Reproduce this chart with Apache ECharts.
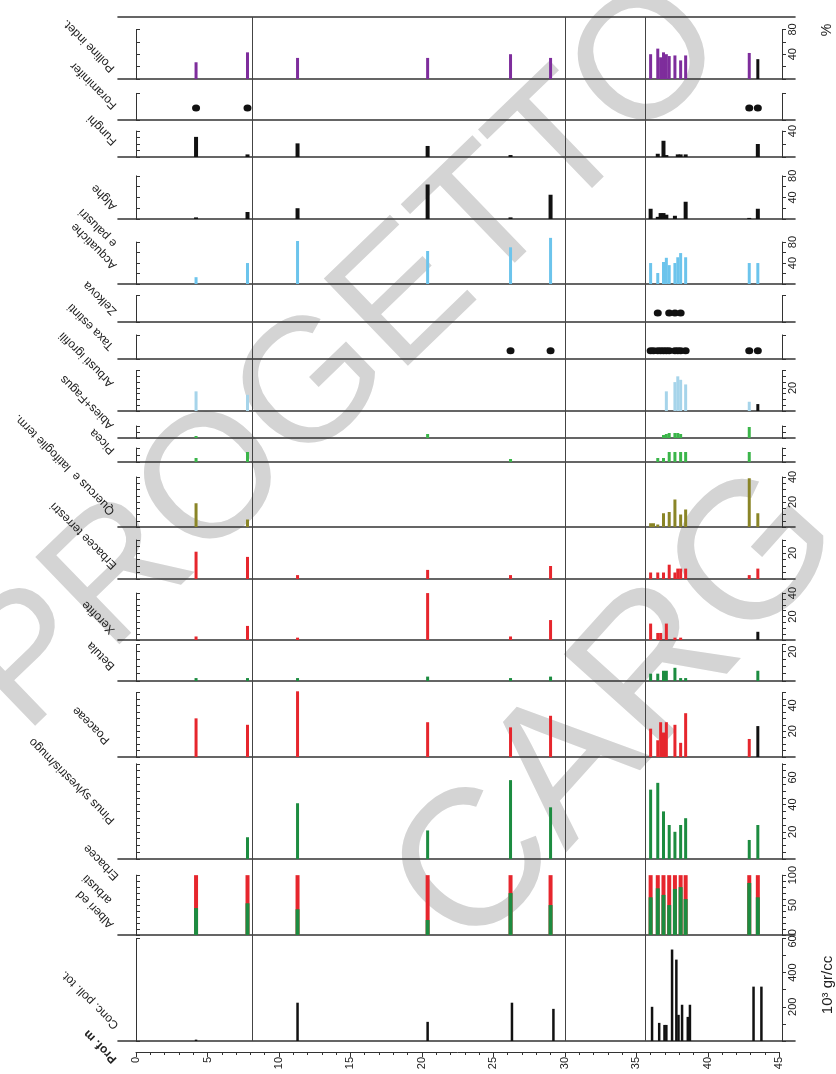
<!DOCTYPE html>
<html><head><meta charset="utf-8">
<script src="https://cdn.jsdelivr.net/npm/echarts@6/dist/echarts.min.js"></script>
<style>html,body{margin:0;padding:0;background:#fff}#c{width:836px;height:1074px}</style>
</head><body><div id="c"></div>
<script>
// ---------------- DATA ----------------
// sample depths (m)
const depths = [4.2, 7.8, 11.3, 20.4, 26.2, 29.0, 36.0, 36.2, 36.5, 36.7, 36.9, 37.1, 37.3, 37.7, 37.9, 38.1, 38.45, 42.9, 43.5];
// percentages per taxon (0 = absent)
const pollineIndet     = [27,43,34,34,40,34, 40,0,49,35,43,40,37,38,0,30,38, 42,32];
const foraminifer      = [1,1,0,0,0,0, 0,0,0,0,0,0,0,0,0,0,0, 1,1];
const funghi           = [31,4,21,17,3,0, 0,0,5,0,25,3,0,0,4,4,4, 0,20];
const alghe            = [3,13,20,64,3,45, 19,0,4,11,11,8,0,6,0,0,32, 2,19];
const acquatiche       = [13,40,82,63,70,88, 40,0,21,0,42,50,36,40,51,59,51, 40,40];
const zelkova          = [0,0,0,0,0,0, 0,0,1,0,0,0,1,1,0,1,0, 0,0];
const taxaEstinti      = [0,0,0,0,1,1, 1,1,1,1,1,1,1,1,1,1,1, 1,1];
const arbustiIgrofili  = [17,14,0,0,0,0, 0,0,0,0,0,17,0,25,30,27,23, 8,6];
const abiesFagus       = [2,0,0,4,0,0, 0,0,0,0,3,4,5,5,5,4,0, 11,0];
const picea            = [4,10,0,0,3,0, 0,0,4,0,4,0,10,10,0,10,10, 10,0];
const quercus          = [19,6,0,0,0,0, 3,3,2,0,11,0,12,22,0,10,14, 39,11];
const erbaceeTerrestri = [21,17,3,7,3,10, 5,0,5,0,5,0,11,5,8,8,8, 3,8];
const xerofite         = [3,12,2,40,3,17, 14,0,6,6,0,14,0,2,0,2,0, 0,7];
const betula           = [2,2,2,3,2,3, 5,0,5,0,7,7,0,9,0,2,2, 0,7];
const poaceae          = [30,25,51,27,23,32, 22,0,13,27,19,27,0,25,0,11,34, 14,24];
const pinus            = [0,16,41,21,58,38, 51,0,56,0,35,0,25,20,0,25,30, 14,25];
const alberiArbusti    = [45,53,43,25,70,50, 63,null,78,null,67,null,50,77,null,80,60, 87,63];
const erbaceeTot       = [55,47,57,75,30,50, 37,null,22,null,33,null,50,23,null,20,40, 13,37];
// total pollen concentration (10^3 gr/cc)
const concDepths = [4.2, 11.3, 20.4, 26.3, 29.2, 36.1, 36.6, 36.97, 37.1, 37.5, 37.8, 37.95, 38.2, 38.6, 38.75, 43.2, 43.75];
const concPoll   = [8, 224, 112, 224, 188, 200, 106, 94, 94, 535, 476, 153, 212, 141, 212, 318, 318];
// zone boundaries (m)
const zoneLines = [8.1, 30.0, 35.6];
// depth axis ticks
const depthTicks = [0, 45, 5];

// ---------------- STYLE / LAYOUT ----------------
const C = {purple:'#7e2d9c', black:'#111111', blue:'#6cc4ec', lightblue:'#a6d4ea', bgreen:'#3bb54a',
           green:'#1c8c40', olive:'#8a8527', red:'#e6262d', axis:'#333'};
const PL = 118, PW = 677, XMIN = -1.26, XMAX = 46.1;
const rng = (a, b, s) => { const r = []; for (let v = a; v <= b + 1e-9; v += s) r.push(v); return r; };

// top/base: pixel rows of panel; max: value at panel top; tt: top of the axis bracket
const panels = [
 {top:17,  base:79,   max:100, tt:80,  rt:20,  rl:[40,80],  lt:20,  type:'bar', vals:pollineIndet, color:C.purple, black:[18]},
 {top:79,  base:120,  max:10,  tt:6.5, rt:6.5, rl:[],       lt:6.5, type:'dot', vals:foraminifer, dotY:2.9},
 {top:120, base:157,  max:57,  tt:40,  rt:20,  rl:[40],     lt:10,  type:'bar', vals:funghi, color:C.black, bw:4},
 {top:157, base:219,  max:115, tt:80,  rt:20,  rl:[40,80],  lt:20,  type:'bar', vals:alghe, color:C.black, bw:4},
 {top:219, base:284,  max:124, tt:80,  rt:20,  rl:[40,80],  lt:20,  type:'bar', vals:acquatiche, color:C.blue},
 {top:284, base:322,  max:10,  tt:7,   rt:7,   rl:[],       lt:7,   type:'dot', vals:zelkova, dotY:2.4},
 {top:322, base:359,  max:10,  tt:6.5, rt:6.5, rl:[],       lt:6.5, type:'dot', vals:taxaEstinti, dotY:2.2},
 {top:359, base:411,  max:45,  tt:35,  rt:5,   rl:[20],     lt:5,   type:'bar', vals:arbustiIgrofili, color:C.lightblue, black:[18]},
 {top:411, base:438,  max:27,  tt:12,  rt:6,   rl:[],       lt:6,   type:'bar', vals:abiesFagus, color:C.bgreen},
 {top:438, base:462,  max:24,  tt:14,  rt:7,   rl:[],       lt:7,   type:'bar', vals:picea, color:C.bgreen},
 {top:462, base:527,  max:52,  tt:40,  rt:5,   rl:[20,40],  lt:5,   type:'bar', vals:quercus, color:C.olive},
 {top:527, base:579,  max:40,  tt:30,  rt:5,   rl:[20],     lt:5,   type:'bar', vals:erbaceeTerrestri, color:C.red},
 {top:579, base:640,  max:52,  tt:40,  rt:5,   rl:[20,40],  lt:5,   type:'bar', vals:xerofite, color:C.red, black:[18]},
 {top:640, base:681,  max:28,  tt:25,  rt:5,   rl:[20],     lt:5,   type:'bar', vals:betula, color:C.green},
 {top:681, base:757,  max:59,  tt:50,  rt:5,   rl:[20,40],  lt:5,   type:'bar', vals:poaceae, color:C.red, black:[18]},
 {top:757, base:859,  max:75,  tt:70,  rt:5,   rl:[20,40,60], lt:5, type:'bar', vals:pinus, color:C.green},
 {top:859, base:935,  max:127, tt:100, rt:10,  rl:[50,100], lt:10,  type:'stack'},
 {top:935, base:1041, max:620, tt:600, rt:100, rl:[200,400,600], lt:600, type:'conc'}
];

const labels = [
 {t:'Polline indet.', x:113, y:70},
 {t:'Foraminifer', x:115, y:107},
 {t:'Funghi', x:115, y:143},
 {t:'Alghe', x:115, y:208},
 {t:'e palustri', x:115, y:245},
 {t:'Acquatiche', x:115, y:267},
 {t:'Zelkova', x:115, y:313},
 {t:'Taxa estinti', x:112, y:348},
 {t:'Arbusti igrofili', x:112, y:385},
 {t:'Abies+Fagus', x:112, y:427},
 {t:'Picea', x:113, y:452},
 {t:'Quercus e  latifoglie term.', x:113, y:513},
 {t:'Erbacee terrestri', x:115, y:567},
 {t:'Xerofite', x:113, y:632},
 {t:'Betula', x:113, y:668},
 {t:'Poaceae', x:108, y:742},
 {t:'Pinus sylvestris/mugo', x:113, y:822},
 {t:'Erbacee', x:117, y:878},
 {t:'arbusti', x:110, y:902},
 {t:'Alberi ed', x:112, y:926},
 {t:'Conc. poll. tot.', x:117, y:1027},
 {t:'Prof. m', x:115, y:1061, bold:true}
];

// ---------------- BUILD ----------------
const grid = [], xAxis = [], yAxis = [], series = [];
const FONT = '"Liberation Sans", Arial, sans-serif';
const hiddenX = gi => ({gridIndex:gi, type:'value', min:XMIN, max:XMAX, show:false});

panels.forEach(p => {
  // main grid: baseline + marks
  const gi = grid.length;
  grid.push({left:PL, width:PW, top:p.top, height:p.base - p.top});
  xAxis.push({gridIndex:gi, type:'value', min:XMIN, max:XMAX,
    axisLine:{show:true, onZero:false, lineStyle:{color:C.axis, width:1.6}},
    axisTick:{show:false}, axisLabel:{show:false}, splitLine:{show:false}});
  const xi = xAxis.length - 1;
  yAxis.push({gridIndex:gi, type:'value', min:0, max:p.max, show:false});
  const yi = yAxis.length - 1;

  // bracket grid: same scale, spans 0..tt only
  const h = (p.base - p.top) * p.tt / p.max;
  const bi = grid.length;
  grid.push({left:PL, width:PW, top:p.base - h, height:h});
  xAxis.push(hiddenX(bi));
  yAxis.push({gridIndex:bi, type:'value', min:0, max:p.tt, position:'left', offset:-15,
    axisLine:{show:true, lineStyle:{color:C.axis, width:1}},
    axisTick:{show:true, inside:true, length:4, customValues:rng(0, p.tt, p.lt), lineStyle:{color:C.axis}},
    axisLabel:{show:false}, splitLine:{show:false}});
  yAxis.push({gridIndex:bi, type:'value', min:0, max:p.tt, position:'right', offset:-13,
    axisLine:{show:true, lineStyle:{color:C.axis, width:1}},
    axisTick:{show:true, inside:false, length:4, customValues:rng(0, p.tt, p.rt), lineStyle:{color:C.axis}},
    axisLabel:{show:p.rl.length > 0, rotate:90, customValues:p.rl, fontSize:11, margin:5, color:'#222', fontFamily:FONT},
    splitLine:{show:false}});

  if (p.type === 'bar') {
    const data = [];
    depths.forEach((d, k) => {
      if (p.vals[k]) {
        const item = {value:[d, p.vals[k]]};
        if (p.black && p.black.includes(k)) item.itemStyle = {color:C.black};
        data.push(item);
      }
    });
    series.push({type:'bar', xAxisIndex:xi, yAxisIndex:yi, data, barWidth:p.bw || 3,
      itemStyle:{color:p.color}, silent:true, animation:false});
  } else if (p.type === 'dot') {
    const data = [];
    depths.forEach((d, k) => { if (p.vals[k]) data.push([d, p.dotY]); });
    series.push({type:'scatter', xAxisIndex:xi, yAxisIndex:yi, data, symbol:'circle',
      symbolSize:[8,7], itemStyle:{color:C.black, opacity:1}, silent:true, animation:false});
  } else if (p.type === 'stack') {
    const tot = [], tr = [];
    depths.forEach((d, k) => {
      if (alberiArbusti[k] != null) {
        tot.push([d, alberiArbusti[k] + erbaceeTot[k]]);
        tr.push([d, alberiArbusti[k]]);
      }
    });
    series.push({type:'bar', xAxisIndex:xi, yAxisIndex:yi, data:tot, barWidth:4, barGap:'-100%',
      itemStyle:{color:C.red}, silent:true, animation:false});
    series.push({type:'bar', xAxisIndex:xi, yAxisIndex:yi, data:tr, barWidth:4, barGap:'-100%',
      itemStyle:{color:C.green}, silent:true, animation:false});
  } else if (p.type === 'conc') {
    series.push({type:'bar', xAxisIndex:xi, yAxisIndex:yi,
      data:concDepths.map((d, k) => [d, concPoll[k]]), barWidth:2.5,
      itemStyle:{color:C.black}, silent:true, animation:false});
  }
});

// overlay grid: top line + zone boundaries
const ov = grid.length;
grid.push({left:PL, width:PW, top:17, height:1041 - 17});
xAxis.push({gridIndex:ov, type:'value', min:XMIN, max:XMAX, position:'top',
  axisLine:{show:true, onZero:false, lineStyle:{color:C.axis, width:1.6}},
  axisTick:{show:false}, axisLabel:{show:false}, splitLine:{show:false}});
yAxis.push({gridIndex:ov, type:'value', min:0, max:1, show:false});
series.push({type:'line', xAxisIndex:xAxis.length - 1, yAxisIndex:yAxis.length - 1, data:[], silent:true, animation:false,
  markLine:{symbol:'none', silent:true, animation:false, label:{show:false},
    lineStyle:{color:'#444', width:1, type:'solid'},
    data:zoneLines.map(v => ({xAxis:v}))}});

// depth axis
const dg = grid.length;
grid.push({left:136, width:779.3 - 136, top:1000, height:52});
xAxis.push({gridIndex:dg, type:'value', min:depthTicks[0], max:depthTicks[1], interval:depthTicks[2], position:'bottom',
  axisLine:{show:true, onZero:false, lineStyle:{color:C.axis, width:1}},
  axisTick:{show:true, length:5, lineStyle:{color:C.axis}},
  minorTick:{show:true, splitNumber:5, length:3, lineStyle:{color:C.axis}},
  axisLabel:{show:true, rotate:90, fontSize:11, margin:5, color:'#222', fontFamily:FONT},
  splitLine:{show:false}, minorSplitLine:{show:false}});
yAxis.push({gridIndex:dg, type:'value', show:false});

// texts
const graphic = [];
// watermark (behind the chart)
graphic.push({type:'text', x:345, y:359, rotation:44 * Math.PI / 180, silent:true, z:-10,
  style:{text:'PROGETTO', fill:'#d4d4d4', font:'176px ' + FONT,
    textAlign:'center', textVerticalAlign:'middle'}});
graphic.push({type:'text', x:620, y:712, rotation:48 * Math.PI / 180, silent:true, z:-10,
  style:{text:'CARG', fill:'#d4d4d4', font:'195px ' + FONT,
    textAlign:'center', textVerticalAlign:'middle'}});
labels.forEach(l => {
  graphic.push({type:'text', x:l.x, y:l.y, rotation:135 * Math.PI / 180, silent:true,
    style:{text:l.t, fill:'#222', font:(l.bold ? 'bold ' : '') + '12px ' + FONT,
      textAlign:'left', textVerticalAlign:'middle'}});
});
graphic.push({type:'text', x:827, y:30, rotation:Math.PI / 2, silent:true,
  style:{text:'%', fill:'#222', font:'14px ' + FONT, textAlign:'center', textVerticalAlign:'middle'}});
graphic.push({type:'text', x:828, y:985, rotation:Math.PI / 2, silent:true,
  style:{text:'10³ gr/cc', fill:'#222', font:'15px ' + FONT, textAlign:'center', textVerticalAlign:'middle'}});

const chart = echarts.init(document.getElementById('c'), null, {renderer:'canvas'});
chart.setOption({backgroundColor:'#fff', animation:false, grid, xAxis, yAxis, series, graphic});
</script></body></html>
